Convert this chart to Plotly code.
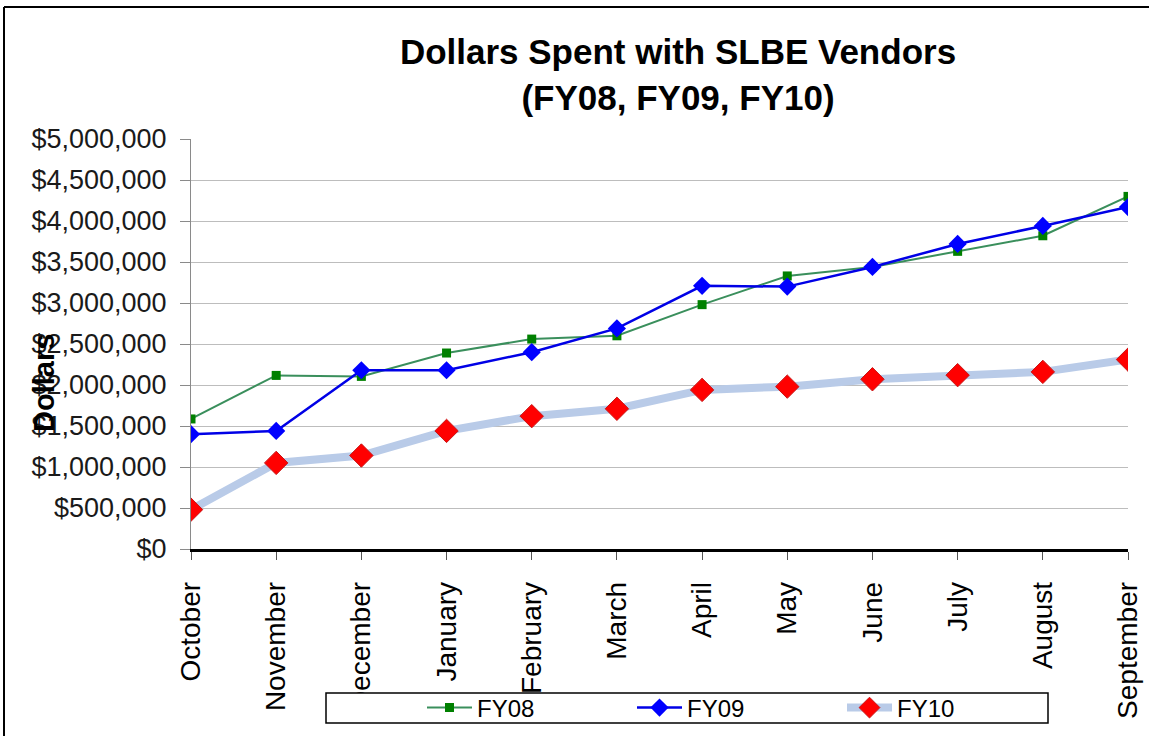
import plotly.graph_objects as go

months = ["October", "November", "December", "January", "February", "March",
          "April", "May", "June", "July", "August", "September"]
fy08 = [1586000, 2117000, 2105000, 2390000, 2560000, 2600000,
        2980000, 3330000, 3440000, 3630000, 3820000, 4300000]
fy09 = [1400000, 1440000, 2180000, 2180000, 2400000, 2690000,
        3210000, 3200000, 3440000, 3720000, 3940000, 4170000]
fy10 = [480000, 1050000, 1140000, 1440000, 1620000, 1710000,
        1940000, 1980000, 2070000, 2120000, 2160000, 2310000]
tick_vals = [0, 500000, 1000000, 1500000, 2000000, 2500000,
             3000000, 3500000, 4000000, 4500000, 5000000]
tick_text = ["$0", "$500,000", "$1,000,000", "$1,500,000", "$2,000,000", "$2,500,000",
             "$3,000,000", "$3,500,000", "$4,000,000", "$4,500,000", "$5,000,000"]
grid_vals = tick_vals[1:-1]

FONT = "Liberation Sans, Arial, sans-serif"
W, H = 1149, 736
L, R, T, B = 191, 21, 139, 187
PW, PH = W - L - R, H - T - B


def px(x):
    return (x - L) / PW


def py(y):
    return (H - B - y) / PH


fig = go.Figure()
fig.add_trace(go.Scatter(
    x=months, y=fy08, name="FY08", mode="lines+markers",
    line=dict(color="#3a8f5c", width=2),
    marker=dict(symbol="square", size=9, color="#008000")))
fig.add_trace(go.Scatter(
    x=months, y=fy09, name="FY09", mode="lines+markers",
    line=dict(color="#0000e6", width=2.5),
    marker=dict(symbol="diamond", size=14, color="#0000ff")))
fig.add_trace(go.Scatter(
    x=months, y=fy10, name="FY10", mode="lines+markers",
    line=dict(color="#b9cbe8", width=8),
    marker=dict(symbol="diamond", size=18, color="#ff0000",
                line=dict(color="#c81414", width=1))))
# invisible helper trace so the grid-only overlay axis is created
fig.add_trace(go.Scatter(x=months[:1], y=fy10[:1], yaxis="y2", mode="markers",
                         marker=dict(opacity=0), showlegend=False, hoverinfo="skip"))

fig.update_layout(
    width=W, height=H,
    margin=dict(l=L, r=R, t=T, b=B, autoexpand=False),
    paper_bgcolor="white", plot_bgcolor="white",
    font=dict(family=FONT, color="#111111"),
    title=dict(text="<b>Dollars Spent with SLBE Vendors<br>(FY08, FY09, FY10)</b>",
               x=678 / W, xref="container", xanchor="center",
               y=1 - 64 / H, yref="container", yanchor="middle",
               font=dict(family=FONT, size=35, color="#000000")),
    xaxis=dict(type="category", categoryorder="array", categoryarray=months,
               range=[0, 11], showgrid=False, zeroline=False, automargin=False,
               showline=True, linecolor="#000000", linewidth=2.5,
               ticks="outside", ticklen=8, tickcolor="#555555", tickwidth=1,
               tickangle=-90, ticklabelstandoff=11,
               tickfont=dict(family=FONT, size=28, color="#000000")),
    yaxis=dict(range=[0, 5000000], tickvals=tick_vals, ticktext=tick_text,
               showgrid=False, zeroline=False, automargin=False,
               showline=True, linecolor="#8a8a8a", linewidth=1,
               ticks="outside", ticklen=10, tickcolor="#8a8a8a",
               ticklabelstandoff=8,
               tickfont=dict(family=FONT, size=27, color="#1a1a1a")),
    yaxis2=dict(range=[0, 5000000], overlaying="y", side="left",
                tickvals=grid_vals, showticklabels=False, ticks="",
                showgrid=True, gridcolor="#bdbdbd", gridwidth=1,
                zeroline=False, showline=False, automargin=False),
    showlegend=True,
    legend=dict(orientation="h", x=px(422), xanchor="left",
                y=py(708), yanchor="middle",
                bgcolor="rgba(0,0,0,0)", borderwidth=0,
                itemwidth=45,
                entrywidth=150, entrywidthmode="pixels",
                font=dict(family=FONT, size=24, color="#000000")),
    annotations=[dict(text="<b>Dollars</b>", textangle=-90,
                      xref="paper", yref="paper", x=px(44), y=py(383),
                      xanchor="center", yanchor="middle", showarrow=False,
                      font=dict(family=FONT, size=29, color="#000000"))],
    shapes=[
        dict(type="rect", xref="paper", yref="paper", layer="above",
             x0=px(326), x1=px(1048), y0=py(723), y1=py(693),
             fillcolor="white", line=dict(color="#000000", width=1.5)),
        dict(type="line", xref="paper", yref="paper",
             x0=px(4), x1=px(1160), y0=py(7), y1=py(7),
             line=dict(color="#000000", width=2)),
        dict(type="line", xref="paper", yref="paper",
             x0=px(4), x1=px(4), y0=py(7), y1=py(760),
             line=dict(color="#000000", width=2)),
    ],
)

fig.write_html("out.html", config={"displayModeBar": False},
               post_script="document.body.style.margin='0';")
